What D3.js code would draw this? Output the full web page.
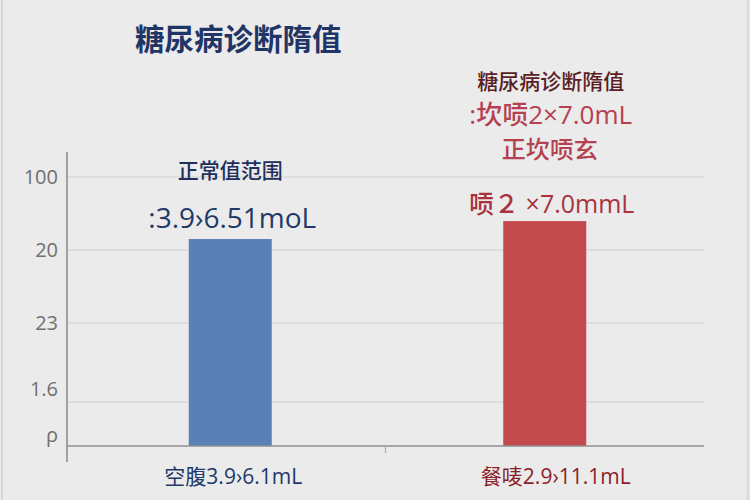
<!DOCTYPE html>
<html><head><meta charset="utf-8">
<script src="https://cdn.jsdelivr.net/npm/d3@7"></script>
<style>
html,body{margin:0;padding:0;background:#ebebeb;}
svg{display:block;}
</style></head>
<body>
<svg id="chart" width="750" height="500"></svg>
<script>
// ---- data ----
const title = "糖尿病诊断隋值";
const categories = ["空腹3.9›6.1mL", "餐唛2.9›11.1mL"];
const values = [70.4, 76.5];
const barColors = ["#5a80b8", "#c44b4d"];
const labelColors = ["#1f3a68", "#8b1e2a"];
const gridValues = [15, 41.8, 66.7, 91.5];
const tickLabels = ["ρ", "1.6", "23", "20", "100"];
const tickLabelValues = [3.7, 19.4, 41.8, 66.7, 91.5];
const blueNotes = ["正常值范围", ":3.9›6.51moL"];
const redNotes = ["糖尿病诊断隋值", ":坎唝2×7.0mL", "正坎唝玄", "唝２ ×7.0mmL"];

// ---- layout ----
const svg = d3.select("#chart");
const L = 67, R = 704, B = 446, T = 152;
const x = d3.scaleBand().domain(categories).range([L, R]);
const y = d3.scaleLinear().domain([0, 100]).range([B, B - 294]);
const barW = 83;
const FONT = "'Open Sans', 'Noto Sans CJK SC', sans-serif";

svg.append("rect").attr("width", 750).attr("height", 500).attr("fill", "#ebebeb");
svg.append("line").attr("x1", 2).attr("x2", 2).attr("y1", 0).attr("y2", 500)
  .attr("stroke", "#d6d6d6").attr("stroke-width", 2);
svg.append("line").attr("x1", 748).attr("x2", 748).attr("y1", 0).attr("y2", 500)
  .attr("stroke", "#dcdcdc").attr("stroke-width", 3);

// gridlines
svg.append("g").selectAll("line").data(gridValues).join("line")
  .attr("x1", L).attr("x2", R)
  .attr("y1", d => y(d)).attr("y2", d => y(d))
  .attr("stroke", "#d9d9d9").attr("stroke-width", 1.5);

// y tick labels
svg.append("g").selectAll("text").data(tickLabelValues).join("text")
  .attr("x", 58).attr("y", d => y(d)).attr("dy", "0.35em")
  .attr("text-anchor", "end")
  .attr("font-family", "'Open Sans', sans-serif")
  .attr("font-size", 20).attr("fill", "#707070")
  .text((d, i) => tickLabels[i]);

// bars
svg.append("g").selectAll("rect").data(categories).join("rect")
  .attr("x", (d, i) => x(d) + x.bandwidth() / 2 - barW / 2 + (i === 0 ? 4 : 0))
  .attr("width", barW)
  .attr("y", (d, i) => y(values[i]))
  .attr("height", (d, i) => B - y(values[i]))
  .attr("fill", (d, i) => barColors[i]);

// axes lines
svg.append("line").attr("x1", L).attr("x2", L).attr("y1", T).attr("y2", 462)
  .attr("stroke", "#8a8a8a").attr("stroke-width", 1.5);
svg.append("line").attr("x1", L).attr("x2", R).attr("y1", B).attr("y2", B)
  .attr("stroke", "#8f8f8f").attr("stroke-width", 1.5);
svg.append("line").attr("x1", (L + R) / 2).attr("x2", (L + R) / 2).attr("y1", B).attr("y2", B + 7)
  .attr("stroke", "#aaaaaa").attr("stroke-width", 1.2);

// x labels
svg.append("g").selectAll("text").data(categories).join("text")
  .attr("x", (d, i) => x(d) + x.bandwidth() / 2 + (i === 0 ? 7 : 11))
  .attr("y", 477).attr("dy", "0.35em").attr("text-anchor", "middle")
  .attr("font-family", FONT)
  .attr("font-size", 21).attr("fill", (d, i) => labelColors[i])
  .text(d => d);

// title
svg.append("text").attr("x", 135).attr("y", 40).attr("dy", "0.35em")
  .attr("font-family", "'Noto Sans CJK SC', sans-serif").attr("font-weight", 700)
  .attr("font-size", 29.5).attr("fill", "#1f3566").text(title);

// blue annotations
const bx = x(categories[0]) + x.bandwidth() / 2 + 4;
svg.append("text").attr("x", bx).attr("y", 171).attr("dy", "0.35em").attr("text-anchor", "middle")
  .attr("font-family", "'Noto Sans CJK SC', sans-serif").attr("font-weight", 500)
  .attr("font-size", 21).attr("fill", "#1e2f5c").text(blueNotes[0]);
svg.append("text").attr("x", bx + 2).attr("y", 218).attr("dy", "0.35em").attr("text-anchor", "middle")
  .attr("font-family", FONT).attr("font-weight", 500)
  .attr("font-size", 28).attr("fill", "#1f3a68").text(blueNotes[1]);

// red annotations
const rx = x(categories[1]) + x.bandwidth() / 2;
const redStyle = [
  {y: 82, size: 21, color: "#5a1e24", dx: 6},
  {y: 115, size: 26, color: "#b5404f", dx: 6},
  {y: 150, size: 24, color: "#b5404f", dx: 5},
  {y: 204, size: 25, color: "#a8323e", dx: 7}
];
svg.append("g").selectAll("text").data(redNotes).join("text")
  .attr("x", (d, i) => rx + redStyle[i].dx).attr("y", (d, i) => redStyle[i].y).attr("dy", "0.35em")
  .attr("text-anchor", "middle")
  .attr("font-family", FONT)
  .attr("font-weight", 500)
  .attr("font-size", (d, i) => redStyle[i].size)
  .attr("fill", (d, i) => redStyle[i].color)
  .text(d => d);
</script>
</body></html>
